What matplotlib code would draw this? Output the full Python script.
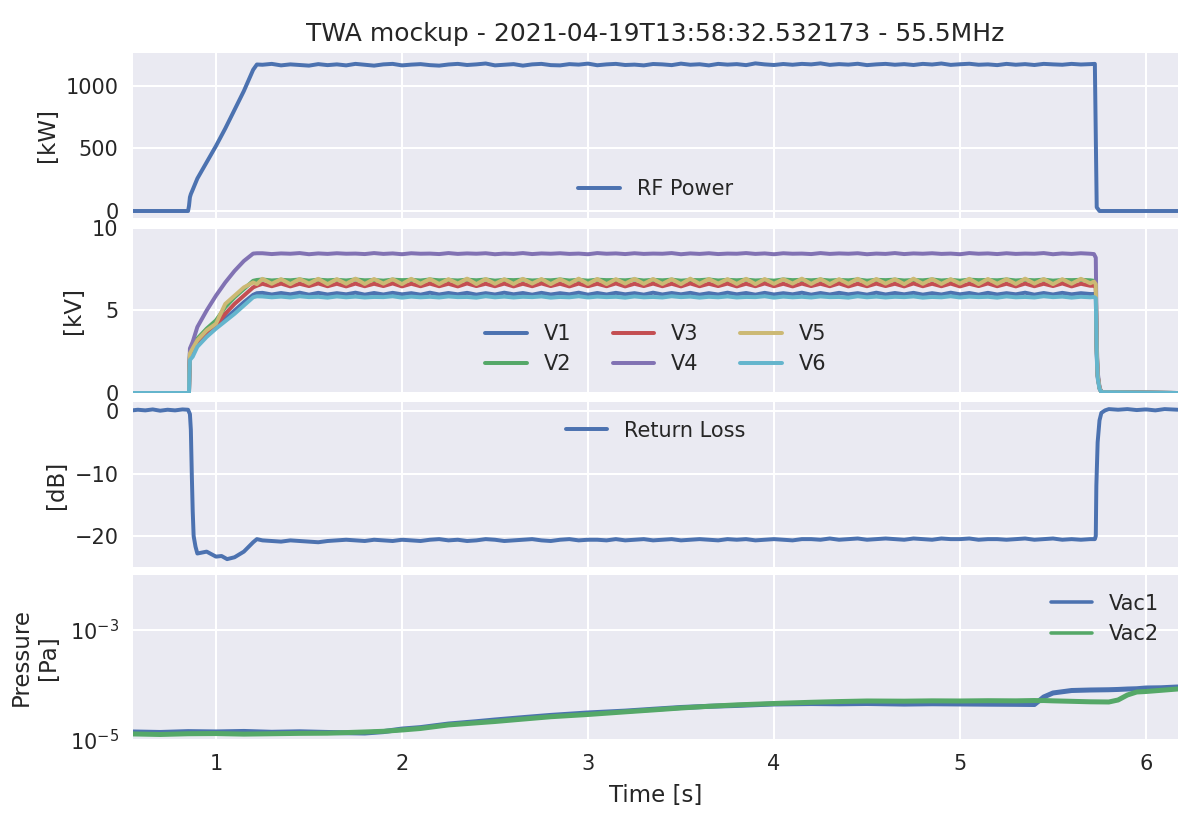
import matplotlib
matplotlib.use('Agg')
import matplotlib.pyplot as plt
import seaborn as sns

# sample times
t_flat = [1.25, 1.30, 1.35, 1.40, 1.45, 1.50, 1.55, 1.60, 1.65, 1.70,
          1.75, 1.80, 1.85, 1.90, 1.95, 2.00, 2.05, 2.10, 2.15, 2.20,
          2.25, 2.30, 2.35, 2.40, 2.45, 2.50, 2.55, 2.60, 2.65, 2.70,
          2.75, 2.80, 2.85, 2.90, 2.95, 3.00, 3.05, 3.10, 3.15, 3.20,
          3.25, 3.30, 3.35, 3.40, 3.45, 3.50, 3.55, 3.60, 3.65, 3.70,
          3.75, 3.80, 3.85, 3.90, 3.95, 4.00, 4.05, 4.10, 4.15, 4.20,
          4.25, 4.30, 4.35, 4.40, 4.45, 4.50, 4.55, 4.60, 4.65, 4.70,
          4.75, 4.80, 4.85, 4.90, 4.95, 5.00, 5.05, 5.10, 5.15, 5.20,
          5.25, 5.30, 5.35, 5.40, 5.45, 5.50, 5.55, 5.60, 5.65, 5.70]

# RF power [kW]
t_rf = [0.55, 0.80, 0.85, 0.855, 0.86, 0.865, 0.875, 0.90, 1.00, 1.05, 1.10, 1.15, 1.20, 1.22] + t_flat + [5.725, 5.73, 5.735, 5.75, 6.17]
rf_power = [0, 0, 0, 40, 110, 135, 170, 260, 520, 660, 810, 960, 1130, 1172,
            1170, 1177, 1165, 1173, 1168, 1163, 1175, 1167, 1173, 1165,
            1177, 1170, 1163, 1173, 1177, 1165, 1171, 1175, 1167, 1163,
            1172, 1177, 1168, 1173, 1180, 1165, 1170, 1175, 1163, 1173,
            1177, 1167, 1165, 1175, 1171, 1179, 1166, 1173, 1177, 1168,
            1171, 1165, 1176, 1173, 1167, 1179, 1170, 1174, 1165, 1177,
            1171, 1175, 1167, 1181, 1173, 1168, 1176, 1170, 1177, 1173,
            1181, 1169, 1175, 1171, 1178, 1167, 1173, 1177, 1170, 1175,
            1168, 1177, 1172, 1180, 1169, 1174, 1178, 1170, 1173, 1167,
            1177, 1170, 1175, 1168, 1177, 1173, 1170, 1177, 1172, 1175,
            1177, 600, 30, 0, 0]

# gap voltages [kV]
t_rise = [0.55, 0.85, 0.855, 0.857, 0.86, 0.875, 0.90, 0.95, 1.00, 1.05, 1.10, 1.15, 1.20, 1.22]
t_fall = [5.72, 5.73, 5.735, 5.74, 5.75, 5.76, 6.17]
t_v = t_rise + t_flat + t_fall

v1 = [0, 0, 0, 1.2, 2.2, 2.5, 2.9, 3.5, 4.0, 4.5, 5.0, 5.5, 5.95, 6.05,
      6.07, 5.97, 6.06, 5.98, 6.08, 5.96, 6.07, 5.97, 6.05, 5.98,
      6.08, 5.96, 6.06, 5.97, 6.07, 5.98, 6.05, 5.96, 6.08, 5.97,
      6.06, 5.98, 6.07, 5.96, 6.05, 5.97, 6.08, 5.98, 6.06, 5.96,
      6.07, 5.97, 6.05, 5.98, 6.08, 5.96, 6.06, 5.97, 6.07, 5.98,
      6.05, 5.96, 6.08, 5.97, 6.06, 5.98, 6.07, 5.96, 6.05, 5.97,
      6.08, 5.98, 6.06, 5.96, 6.07, 5.97, 6.05, 5.98, 6.08, 5.96,
      6.06, 5.97, 6.07, 5.98, 6.05, 5.96, 6.08, 5.97, 6.06, 5.98,
      6.07, 5.96, 6.05, 5.97, 6.08, 5.98, 6.06, 5.96, 6.07, 5.97,
      6.05, 5.98, 6.08, 5.96, 6.06, 5.97, 6.07, 5.98, 6.05, 6.00,
      6.00, 5.9, 2.4, 1.0, 0.3, 0.05, 0]
v2 = [0, 0, 0, 1.3, 2.4, 2.7, 3.3, 3.9, 4.4, 5.2, 5.8, 6.3, 6.8, 6.85,
      6.88, 6.82, 6.86, 6.83, 6.88, 6.81, 6.87, 6.83, 6.86, 6.82,
      6.88, 6.83, 6.85, 6.81, 6.87, 6.84, 6.86, 6.82, 6.88, 6.83,
      6.85, 6.82, 6.87, 6.83, 6.88, 6.81, 6.86, 6.84, 6.87, 6.82,
      6.85, 6.83, 6.88, 6.82, 6.86, 6.81, 6.87, 6.84, 6.85, 6.83,
      6.88, 6.82, 6.86, 6.83, 6.87, 6.81, 6.85, 6.84, 6.88, 6.82,
      6.86, 6.83, 6.87, 6.82, 6.85, 6.81, 6.88, 6.84, 6.86, 6.83,
      6.87, 6.82, 6.85, 6.83, 6.88, 6.81, 6.86, 6.84, 6.87, 6.82,
      6.85, 6.83, 6.88, 6.82, 6.86, 6.81, 6.87, 6.84, 6.85, 6.83,
      6.88, 6.82, 6.86, 6.83, 6.87, 6.81, 6.85, 6.84, 6.86, 6.83,
      6.80, 6.6, 2.7, 1.1, 0.3, 0.05, 0]
v3 = [0, 0, 0, 1.2, 2.2, 2.5, 2.9, 3.5, 4.1, 4.8, 5.4, 5.9, 6.4, 6.5,
      6.62, 6.47, 6.63, 6.46, 6.62, 6.48, 6.64, 6.47, 6.62, 6.46,
      6.63, 6.47, 6.62, 6.48, 6.64, 6.46, 6.62, 6.47, 6.63, 6.47,
      6.62, 6.46, 6.64, 6.48, 6.62, 6.47, 6.63, 6.46, 6.62, 6.47,
      6.64, 6.48, 6.62, 6.46, 6.63, 6.47, 6.62, 6.47, 6.64, 6.46,
      6.62, 6.48, 6.63, 6.47, 6.62, 6.46, 6.64, 6.47, 6.62, 6.48,
      6.63, 6.46, 6.62, 6.47, 6.64, 6.47, 6.62, 6.46, 6.63, 6.48,
      6.62, 6.47, 6.64, 6.46, 6.62, 6.47, 6.63, 6.48, 6.62, 6.46,
      6.64, 6.47, 6.62, 6.47, 6.63, 6.46, 6.62, 6.48, 6.64, 6.47,
      6.62, 6.46, 6.63, 6.47, 6.62, 6.48, 6.64, 6.46, 6.62, 6.50,
      6.50, 6.4, 2.6, 1.05, 0.3, 0.05, 0]
v4 = [0, 0, 0, 1.5, 2.7, 3.1, 4.0, 5.0, 5.9, 6.7, 7.4, 8.0, 8.45, 8.47,
      8.47, 8.42, 8.46, 8.44, 8.48, 8.41, 8.46, 8.43, 8.47, 8.44,
      8.45, 8.42, 8.48, 8.43, 8.46, 8.41, 8.47, 8.44, 8.45, 8.42,
      8.48, 8.43, 8.46, 8.44, 8.47, 8.41, 8.45, 8.43, 8.48, 8.42,
      8.46, 8.44, 8.47, 8.43, 8.45, 8.41, 8.48, 8.44, 8.46, 8.42,
      8.47, 8.43, 8.45, 8.44, 8.48, 8.41, 8.46, 8.43, 8.47, 8.42,
      8.45, 8.44, 8.48, 8.43, 8.46, 8.41, 8.47, 8.44, 8.45, 8.42,
      8.48, 8.43, 8.46, 8.44, 8.47, 8.41, 8.45, 8.43, 8.48, 8.42,
      8.46, 8.44, 8.47, 8.43, 8.45, 8.41, 8.48, 8.44, 8.46, 8.42,
      8.47, 8.43, 8.45, 8.44, 8.48, 8.41, 8.46, 8.43, 8.47, 8.44,
      8.42, 8.2, 3.2, 1.3, 0.35, 0.05, 0]
v5 = [0, 0, 0, 1.3, 2.4, 2.7, 3.2, 3.8, 4.2, 5.4, 5.9, 6.4, 6.7, 6.6,
      6.92, 6.62, 6.90, 6.60, 6.91, 6.63, 6.92, 6.60, 6.90, 6.62,
      6.93, 6.61, 6.91, 6.63, 6.90, 6.60, 6.92, 6.62, 6.91, 6.61,
      6.90, 6.63, 6.93, 6.60, 6.91, 6.62, 6.90, 6.61, 6.92, 6.63,
      6.91, 6.60, 6.90, 6.62, 6.93, 6.61, 6.91, 6.60, 6.90, 6.63,
      6.92, 6.62, 6.91, 6.61, 6.90, 6.60, 6.93, 6.62, 6.91, 6.63,
      6.90, 6.61, 6.92, 6.60, 6.91, 6.62, 6.90, 6.63, 6.93, 6.61,
      6.91, 6.60, 6.90, 6.62, 6.92, 6.61, 6.91, 6.63, 6.90, 6.60,
      6.93, 6.62, 6.91, 6.61, 6.90, 6.63, 6.92, 6.60, 6.91, 6.62,
      6.90, 6.61, 6.93, 6.63, 6.91, 6.60, 6.90, 6.62, 6.92, 6.65,
      6.75, 6.6, 2.7, 1.1, 0.3, 0.05, 0]
v6 = [0, 0, 0, 1.1, 2.0, 2.2, 2.8, 3.4, 3.9, 4.35, 4.8, 5.3, 5.8, 5.86,
      5.85, 5.80, 5.84, 5.79, 5.86, 5.81, 5.83, 5.78, 5.85, 5.80,
      5.84, 5.79, 5.82, 5.81, 5.86, 5.78, 5.84, 5.80, 5.83, 5.79,
      5.85, 5.81, 5.82, 5.78, 5.86, 5.80, 5.84, 5.79, 5.83, 5.81,
      5.85, 5.78, 5.82, 5.80, 5.86, 5.79, 5.84, 5.81, 5.83, 5.78,
      5.85, 5.80, 5.82, 5.79, 5.86, 5.81, 5.84, 5.78, 5.83, 5.80,
      5.85, 5.79, 5.82, 5.81, 5.86, 5.78, 5.84, 5.80, 5.83, 5.79,
      5.85, 5.81, 5.82, 5.78, 5.86, 5.80, 5.84, 5.79, 5.83, 5.81,
      5.85, 5.78, 5.82, 5.80, 5.86, 5.79, 5.84, 5.81, 5.83, 5.78,
      5.85, 5.80, 5.82, 5.79, 5.86, 5.81, 5.84, 5.78, 5.83, 5.80,
      5.82, 5.75, 2.2, 0.9, 0.25, 0.05, 0]

# return loss [dB]
t_rl = [0.55, 0.58, 0.62, 0.66, 0.70, 0.74, 0.78, 0.82, 0.85, 0.86, 0.865, 0.87, 0.875, 0.88, 0.89, 0.90,
        0.95, 1.00, 1.03, 1.06, 1.10, 1.15, 1.20, 1.22] + t_flat + [5.725, 5.73, 5.733, 5.74, 5.75, 5.76, 5.78, 5.80,
        5.85, 5.90, 5.95, 6.00, 6.05, 6.10, 6.17]
return_loss = [0.1, 0.2, 0.1, 0.25, 0.05, 0.2, 0.1, 0.25, 0.2, -0.5, -3, -10, -16, -20, -21.7, -22.8,
               -22.5, -23.3, -23.2, -23.7, -23.4, -22.5, -21.0, -20.5,
               -20.7, -20.8, -20.9, -20.7, -20.8, -20.9, -21.0, -20.8, -20.7, -20.6,
               -20.7, -20.8, -20.6, -20.7, -20.8, -20.6, -20.7, -20.8, -20.6, -20.5,
               -20.7, -20.6, -20.8, -20.7, -20.5, -20.6, -20.8, -20.7, -20.6, -20.5,
               -20.7, -20.8, -20.6, -20.5, -20.7, -20.6, -20.6, -20.7, -20.5, -20.7,
               -20.6, -20.5, -20.7, -20.6, -20.5, -20.7, -20.6, -20.5, -20.6, -20.7,
               -20.5, -20.6, -20.5, -20.7, -20.6, -20.5, -20.6, -20.7, -20.5, -20.5,
               -20.6, -20.4, -20.6, -20.5, -20.4, -20.6, -20.5, -20.4, -20.5, -20.6,
               -20.4, -20.5, -20.6, -20.4, -20.5, -20.5, -20.4, -20.6, -20.5, -20.5,
               -20.6, -20.5, -20.4, -20.6, -20.5, -20.4, -20.6, -20.5, -20.6, -20.5,
               -20.5, -20, -12, -5, -1.5, -0.3, 0.1, 0.3,
               0.2, 0.3, 0.15, 0.25, 0.1, 0.3, 0.2]

# chamber pressure [Pa]
t_vac = [0.55, 0.70, 0.85, 1.00, 1.15, 1.30, 1.45, 1.60, 1.80, 1.90, 2.00, 2.10, 2.25, 2.40, 2.50, 2.65, 2.80, 3.00, 3.20, 3.35,
         3.50, 3.65, 3.80, 4.00, 4.20, 4.35, 4.50, 4.70, 4.85, 5.00, 5.15, 5.30, 5.40, 5.42, 5.45, 5.50, 5.60, 5.70, 5.80, 5.85,
         5.90, 5.95, 6.00, 6.08, 6.17]
vac1 = [1.40e-5, 1.37e-5, 1.42e-5, 1.40e-5, 1.43e-5, 1.38e-5, 1.41e-5, 1.37e-5, 1.34e-5, 1.42e-5, 1.58e-5, 1.68e-5, 1.95e-5, 2.15e-5, 2.31e-5, 2.55e-5, 2.80e-5,
        3.10e-5, 3.35e-5, 3.62e-5, 3.90e-5, 4.10e-5, 4.25e-5, 4.52e-5, 4.60e-5, 4.55e-5, 4.61e-5, 4.50e-5, 4.56e-5, 4.52e-5, 4.48e-5, 4.45e-5,
        4.42e-5, 5.00e-5, 6.05e-5, 7.16e-5, 7.94e-5, 8.11e-5, 8.20e-5, 8.30e-5, 8.45e-5, 8.55e-5, 8.82e-5, 8.90e-5, 9.20e-5]
vac2 = [1.29e-5, 1.26e-5, 1.30e-5, 1.31e-5, 1.28e-5, 1.30e-5, 1.32e-5, 1.33e-5, 1.40e-5, 1.44e-5, 1.52e-5, 1.62e-5, 1.88e-5, 2.05e-5, 2.17e-5, 2.40e-5, 2.65e-5,
        2.91e-5, 3.25e-5, 3.52e-5, 3.82e-5, 4.10e-5, 4.35e-5, 4.61e-5, 4.85e-5, 5.00e-5, 5.12e-5, 5.08e-5, 5.15e-5, 5.12e-5, 5.18e-5, 5.15e-5,
        5.22e-5, 5.20e-5, 5.22e-5, 5.15e-5, 5.05e-5, 4.95e-5, 4.91e-5, 5.34e-5, 6.58e-5, 7.46e-5, 7.62e-5, 8.00e-5, 8.46e-5]

sns.set_theme(style='darkgrid', color_codes=True)
plt.rcParams.update({'xtick.labelsize': 10, 'ytick.labelsize': 10, 'axes.labelsize': 11,
                     'legend.fontsize': 10, 'legend.frameon': False, 'axes.titlesize': 12,
                     'axes.linewidth': 0, 'axes.labelpad': 3.2,
                     'xtick.major.size': 3.4, 'ytick.major.size': 3.4})

fig, axes = plt.subplots(4, 1, sharex=True, figsize=(8, 5.5), dpi=150)
# top and bottom pixel rows of the four panels
rows = [(53, 218), (228, 393), (402, 567), (575, 740)]
for ax, (top, bottom) in zip(axes, rows):
    ax.set_position([133/1200, 1-bottom/825, 1045/1200, (bottom-top)/825])

ax = axes[0]
ax.plot(t_rf, rf_power, color='b', lw=1.9, label='RF Power')
ax.set_ylim(-56, 1264)
ax.set_yticks([0, 500, 1000])
ax.set_ylabel('[kW]')
ax.legend(loc='lower center')
ax.set_title('TWA mockup - 2021-04-19T13:58:32.532173 - 55.5MHz')

ax = axes[1]
ax.plot(t_v, v1, color='b', lw=1.9, label='V1')
ax.plot(t_v, v2, color='g', lw=1.9, label='V2')
ax.plot(t_v, v3, color='r', lw=1.9, label='V3')
ax.plot(t_v, v4, color='m', lw=1.9, label='V4')
ax.plot(t_v, v5, color='y', lw=1.9, label='V5')
ax.plot(t_v, v6, color='c', lw=1.9, label='V6')
ax.set_ylim(0, 10)
ax.set_yticks([0, 5, 10])
ax.set_ylabel('[kV]')
ax.legend(loc='lower center', ncol=3)

ax = axes[2]
ax.plot(t_rl, return_loss, color='b', lw=1.9, label='Return Loss')
ax.set_ylim(-24.96, 1.44)
ax.set_yticks([-20, -10, 0])
ax.set_ylabel('[dB]')
ax.legend(loc='upper center')

ax = axes[3]
ax.plot(t_vac, vac1, color='b', lw=2.4, label='Vac1')
ax.plot(t_vac, vac2, color='g', lw=2.4, label='Vac2')
ax.set_yscale('log')
ax.set_ylim(1e-5, 1e-2)
ax.set_yticks([1e-5, 1e-3])
ax.minorticks_off()
ax.set_ylabel('Pressure\n[Pa]', labelpad=4.8)
ax.set_xlabel('Time [s]', labelpad=4.5)
leg = ax.legend(loc='upper right')
for line in leg.get_lines():
    line.set_linewidth(1.7)

ax.set_xlim(0.554, 6.172)
ax.set_xticks([1, 2, 3, 4, 5, 6])

fig.savefig('out.png', dpi=150)
